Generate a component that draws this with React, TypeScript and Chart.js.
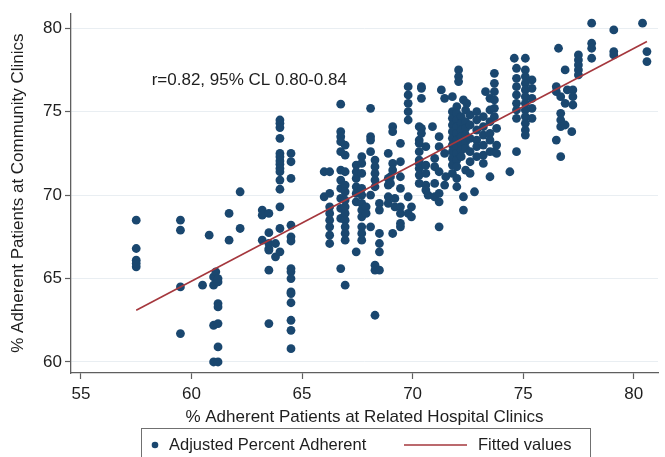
import React, { useEffect, useRef } from "react";
import { Chart, registerables } from "chart.js";

Chart.register(...registerables);

const FONT = "'Liberation Sans', Arial, Helvetica, sans-serif";

// x positions (hospital clinic %) of the vertical columns of points
const hospitalCols: number[] = [
  57.5, 59.5, 60.5, 60.8, 61.0, 61.1, 61.2, 61.7, 62.2, 63.2,
  63.5, 63.8, 64.0, 64.5, 66.0, 66.25, 66.75, 66.95, 67.45, 67.7,
  67.9, 68.1, 68.3, 68.5, 68.9, 69.0, 69.1, 69.2, 69.45, 69.8,
  69.95, 70.3, 70.4, 70.6, 70.7, 70.9, 71.0, 71.2, 71.3, 71.45,
  71.5, 71.8, 72.0, 72.08, 72.2, 72.3, 72.4, 72.45, 72.6, 72.8,
  72.9, 73.2, 73.3, 73.5, 73.7, 73.8, 74.4, 74.6, 74.7, 75.1,
  75.4, 76.5, 76.6, 76.7, 76.9, 77.0, 77.2, 77.25, 77.5, 78.1,
  79.1, 80.4, 80.6,
];

// community clinic % values for each column above
const communityByCol: number[][] = [
  [68.5, 66.8, 66.1, 65.7, 65.9],
  [68.5, 67.9, 64.5, 61.7],
  [64.6],
  [67.6],
  [65.1, 64.6, 62.2, 60.0],
  [65.4],
  [64.8, 65.0, 63.5, 63.3, 62.3, 60.9, 60.0],
  [68.9, 67.3],
  [70.2, 68.0],
  [69.1, 68.8, 67.3],
  [68.9, 67.75, 66.8, 65.5, 62.3, 67.1, 66.7],
  [67.1, 66.3],
  [66.6, 74.5, 74.3, 74.05, 73.4, 72.5, 72.3, 72.05, 71.85, 71.6, 71.4, 70.9, 70.35, 69.3, 68.0],
  [72.5, 72.0, 71.0, 68.2, 67.5, 67.25, 65.6, 65.4, 65.0, 64.2, 64.1, 63.55, 62.5, 61.9, 60.8],
  [71.4, 69.9],
  [71.4, 70.1, 69.3, 68.9, 68.5, 68.1, 67.6, 67.1],
  [75.45, 73.8, 73.5, 73.2, 72.6, 71.5, 70.9, 70.4, 69.8, 69.2, 68.6, 65.6],
  [73.0, 72.4, 71.4, 70.6, 70.2, 69.7, 69.3, 68.9, 68.5, 68.1, 67.7, 67.3, 64.6],
  [71.8, 71.4, 71.0, 70.5, 70.1, 69.6, 66.6],
  [72.3, 71.9, 71.3, 70.4, 70.0, 69.5, 69.1, 68.7, 68.1, 67.7, 67.3],
  [69.3, 68.9],
  [75.2, 73.5, 73.3, 72.6, 70.0, 68.1],
  [72.1, 71.7, 71.3, 70.9, 70.5, 65.8, 65.5, 62.8],
  [69.5, 69.1, 67.7, 67.1, 66.6, 65.5],
  [72.5, 71.0, 70.6, 69.9, 69.5],
  [71.1, 70.7],
  [74.1, 73.8, 71.9, 71.5, 67.7],
  [69.8, 69.3],
  [73.1, 72.0, 71.1, 70.4, 69.3, 68.9, 68.3, 68.1],
  [76.5, 76.0, 75.5, 75.0, 74.5, 69.9, 68.9],
  [69.3, 68.7],
  [74.1, 73.3, 72.6, 72.1, 71.9, 71.6, 71.2, 70.7, 73.1],
  [76.5, 75.8, 74.0, 73.7, 76.4],
  [72.9, 71.8, 71.3, 70.6, 70.3],
  [70.0],
  [74.1],
  [72.2, 71.7, 70.7, 69.9],
  [73.5, 72.9, 71.4, 70.1, 69.6, 68.1],
  [76.3],
  [75.8, 72.5, 70.6],
  [71.1],
  [75.9, 75.0, 74.6, 74.2, 73.8, 73.4, 73.0, 72.6, 72.2, 71.8, 71.3],
  [75.3, 74.9, 74.5, 74.1, 73.7, 73.3, 72.9, 72.5, 72.1, 71.7, 71.0, 70.5],
  [77.5, 77.1, 76.8],
  [74.7, 74.3, 73.9, 73.5, 73.1, 72.7, 72.3],
  [75.7, 69.9, 69.1],
  [75.1, 74.4, 74.0, 73.6, 73.2, 72.8, 71.5],
  [75.5],
  [74.8, 74.2, 73.4, 72.6, 72.0, 71.3],
  [70.2],
  [75.0, 74.5, 73.9, 73.3, 72.9, 72.3],
  [74.7, 74.1, 73.6, 73.0, 72.4, 71.9],
  [76.2],
  [75.8, 75.1, 74.4, 73.7, 73.3, 72.6, 71.1],
  [77.3, 76.7, 76.2, 75.7, 75.2, 74.7, 72.6],
  [74.0, 73.0, 72.5],
  [71.4],
  [78.2],
  [77.6, 77.0, 76.5, 76.0, 75.5, 75.1, 74.6, 72.6],
  [78.2, 77.5, 77.1, 76.7, 76.3, 75.9, 75.5, 75.1, 74.7, 74.3, 73.9, 73.6],
  [76.9, 76.4, 75.8, 75.2, 74.6],
  [76.5, 76.2, 73.3],
  [78.8],
  [75.9, 74.9, 74.5, 74.1, 72.3],
  [77.5, 75.5, 74.2],
  [76.3],
  [73.8],
  [76.3, 75.9, 75.4],
  [78.4, 78.1, 77.8, 77.5, 77.2],
  [80.3, 79.1, 78.8, 78.2],
  [79.9, 78.6, 78.4],
  [80.3],
  [78.6, 78.0],
];

// fitted regression line end points
const fittedX: number[] = [57.5, 80.6];
const fittedY: number[] = [63.1, 79.2];

const xTicks: number[] = [55, 60, 65, 70, 75, 80];
const yTicks: number[] = [60, 65, 70, 75, 80];

const X_MIN = 54.55;
const X_MAX = 81.1;
const Y_MIN = 59.34;
const Y_MAX = 80.9;

const annotationText = "r=0.82, 95% CL 0.80-0.84";
const annotationAt = { x: 58.2, y: 76.9 };

const xTitle = "% Adherent Patients at Related Hospital Clinics";
const yTitle = "% Adherent Patients at Community Clinics";
const legendLabels = ["Adjusted Percent Adherent", "Fitted values"];

const NAVY = "#1a476f";
const MAROON = "#a5373d";
const AXIS = "#5f5f5f";
const GRID = "#e9eef2";
const TEXT = "#1e1e1e";

const overlayPlugin = {
  id: "overlay",
  afterDraw(chart: any) {
    const ctx = chart.ctx as CanvasRenderingContext2D;
    const xs = chart.scales.x;
    const ys = chart.scales.y;
    ctx.save();
    // annotation
    ctx.font = `17px ${FONT}`;
    ctx.fillStyle = TEXT;
    ctx.textAlign = "left";
    ctx.textBaseline = "middle";
    ctx.fillText(
      annotationText,
      xs.getPixelForValue(annotationAt.x),
      ys.getPixelForValue(annotationAt.y)
    );
    // legend box
    const left = 141;
    const right = 590;
    const top = 428;
    const cy = 445;
    ctx.strokeStyle = "#707070";
    ctx.lineWidth = 1;
    ctx.strokeRect(left + 0.5, top + 0.5, right - left, 60);
    ctx.fillStyle = NAVY;
    ctx.beginPath();
    ctx.arc(left + 14, cy, 3.3, 0, Math.PI * 2);
    ctx.fill();
    ctx.font = `16.5px ${FONT}`;
    ctx.fillStyle = TEXT;
    ctx.fillText(legendLabels[0], left + 28, cy);
    ctx.strokeStyle = MAROON;
    ctx.lineWidth = 1.6;
    ctx.beginPath();
    ctx.moveTo(left + 263, cy);
    ctx.lineTo(left + 326, cy);
    ctx.stroke();
    ctx.fillText(legendLabels[1], left + 337, cy);
    ctx.restore();
  },
};

export default function App() {
  const canvasRef = useRef<HTMLCanvasElement | null>(null);

  useEffect(() => {
    const canvas = canvasRef.current;
    if (!canvas) return;
    const points: { x: number; y: number }[] = [];
    hospitalCols.forEach((x, i) => {
      (communityByCol[i] || []).forEach((y) => points.push({ x, y }));
    });
    const fitted = fittedX.map((x, i) => ({ x, y: fittedY[i] }));

    const chart = new Chart(canvas, {
      type: "scatter",
      data: {
        datasets: [
          {
            type: "line" as any,
            label: legendLabels[1],
            data: fitted,
            borderColor: MAROON,
            borderWidth: 1.6,
            pointRadius: 0,
            fill: false,
            order: 0,
          } as any,
          {
            label: legendLabels[0],
            data: points,
            backgroundColor: NAVY,
            borderWidth: 0,
            pointRadius: 4.4,
            pointHoverRadius: 4.4,
            order: 1,
          },
        ],
      },
      options: {
        animation: false,
        responsive: false,
        maintainAspectRatio: false,
        events: [],
        layout: { padding: { left: 0, right: 7, top: 13, bottom: 29 } },
        plugins: {
          legend: { display: false },
          tooltip: { enabled: false },
        },
        scales: {
          x: {
            type: "linear",
            min: X_MIN,
            max: X_MAX,
            afterBuildTicks: (s: any) => {
              s.ticks = xTicks.map((v) => ({ value: v }));
            },
            afterFit: (s: any) => {
              s.height = 55;
            },
            grid: {
              drawOnChartArea: false,
              drawTicks: true,
              tickLength: 6,
              tickColor: AXIS,
              tickWidth: 1.2,
            },
            border: { display: true, color: AXIS, width: 1.3 },
            ticks: {
              font: { family: FONT, size: 17 },
              color: TEXT,
              padding: 5,
              maxRotation: 0,
              autoSkip: false,
            },
            title: {
              display: true,
              text: xTitle,
              font: { family: FONT, size: 17 },
              color: TEXT,
              padding: { top: 0, bottom: 0 },
            },
          },
          y: {
            type: "linear",
            min: Y_MIN,
            max: Y_MAX,
            afterBuildTicks: (s: any) => {
              s.ticks = yTicks.map((v) => ({ value: v }));
            },
            afterFit: (s: any) => {
              s.width = 71;
            },
            grid: {
              drawOnChartArea: true,
              color: GRID,
              lineWidth: 1,
              drawTicks: true,
              tickLength: 6,
              tickColor: AXIS,
              tickWidth: 1.2,
            },
            border: { display: true, color: AXIS, width: 1.3 },
            ticks: {
              font: { family: FONT, size: 17 },
              color: TEXT,
              padding: 3,
              autoSkip: false,
            },
            title: {
              display: true,
              text: yTitle,
              font: { family: FONT, size: 17 },
              color: TEXT,
              padding: { top: 8, bottom: 0 },
            },
          },
        },
      },
      plugins: [overlayPlugin],
    });
    return () => chart.destroy();
  }, []);

  return (
    <div style={{ position: "absolute", left: 0, top: 0, width: 665, height: 457, background: "#fff" }}>
      <canvas ref={canvasRef} width={665} height={457} style={{ display: "block" }} />
    </div>
  );
}
